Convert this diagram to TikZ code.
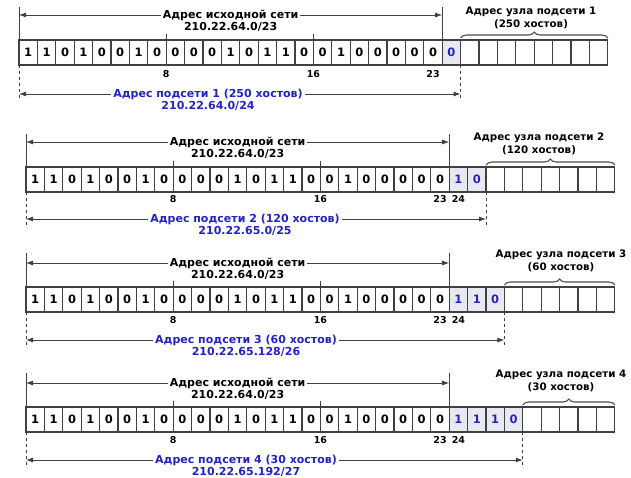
\documentclass[tikz,border=0pt]{standalone}
\usepackage{fontspec}
\setmainfont{DejaVu Sans}
\usepackage{xcolor}
\usetikzlibrary{arrows.meta, positioning, decorations.pathreplacing}
\definecolor{subblue}{RGB}{35,35,190}
\definecolor{subfill}{RGB}{232,232,240}
\newcommand{\cw}{18.4}
\tikzset{
  bitcell/.style={rectangle, draw=black!75, fill=white, line width=1.3pt,
                  minimum width=18.4pt, minimum height=25pt, inner sep=0pt,
                  outer sep=0pt, font=\bfseries\fontsize{11.5}{12}\selectfont},
  subcell/.style={bitcell, fill=subfill, text=subblue},
  dimarr/.style={{Latex[length=7pt,width=5pt]}-{Latex[length=7pt,width=5pt]},
                 draw=black!75, line width=0.8pt},
  guide/.style={draw=black!75, line width=0.9pt},
  hostbrace/.style={decorate, decoration={brace, amplitude=6pt, raise=2pt},
                    draw=black!70, line width=1.1pt},
  nettxt/.style={font=\bfseries\fontsize{11}{12}\selectfont, fill=white,
                 inner sep=2pt, text height=8pt, text depth=2pt},
  subtxt/.style={nettxt, text=subblue},
  hosttxt/.style={font=\bfseries\fontsize{10.3}{12}\selectfont, inner sep=1pt},
  bitnum/.style={font=\bfseries\fontsize{9.5}{11}\selectfont, inner sep=1pt},
}

\begin{document}
\begin{tikzpicture}[x=1pt, y=-1pt]
  \useasboundingbox (0,0) rectangle (631,477);

  % subnet 1: /24
  \begin{scope}[shift={(19,40)}]
    \foreach \b [count=\i] in {1,1,0,1,0,0,1,0,0,0,0,1,0,1,1,0,0,1,0,0,0,0,0}
      \node[bitcell] (r1b\i) at ({(\i-0.5)*\cw},12.5) {\b};
    \node[subcell] (r1b24) at ({23.5*\cw},12.5) {0};
    \foreach \i in {25,...,32}
      \node[bitcell] (r1b\i) at ({(\i-0.5)*\cw},12.5) {};
    \draw[guide] (r1b8.north east) -- ++(0,-6);
    \draw[guide] (r1b16.north east) -- ++(0,-6);
    \draw[guide] (r1b1.north west) -- ++(0,-33);
    \draw[guide] (r1b23.north east) -- ++(0,-33);
    \draw[guide, dashed] (r1b1.south west) -- ++(0,35);
    \draw[guide, dashed] (r1b24.south east) -- ++(0,35);
    \coordinate (r1nl) at (0,-25);
    \coordinate (r1nr) at ({23*\cw},-25);
    \draw[dimarr] (r1nl) -- (r1nr) node[nettxt, midway] (r1net) {Адрес исходной сети};
    \node[nettxt, fill=none] (r1neta) at ([yshift=-12pt]r1net.center) {210.22.64.0/23};
    \coordinate (r1sl) at (0,54);
    \coordinate (r1sr) at ({24*\cw},54);
    \draw[dimarr] (r1sl) -- (r1sr);
    \node[subtxt] (r1sub) at (189,54) {Адрес подсети 1 (250 хостов)};
    \node[subtxt, fill=none] (r1suba) at (189,66) {210.22.64.0/24};
    \draw[hostbrace] (r1b25.north west) -- (r1b32.north east);
    \node[hosttxt] (r1host) at (512,-28) {Адрес узла подсети 1};
    \node[hosttxt] (r1hosta) at (512,-16) {(250 хостов)};
    \node[bitnum] (r1n8) at ({8*\cw},34) {8};
    \node[bitnum] (r1n16) at ({16*\cw},34) {16};
    \node[bitnum] (r1n23) at (r1b23 |- r1n8) {23};
  \end{scope}

  % subnet 2: /25
  \begin{scope}[shift={(26,167)}]
    \foreach \b [count=\i] in {1,1,0,1,0,0,1,0,0,0,0,1,0,1,1,0,0,1,0,0,0,0,0}
      \node[bitcell] (r2b\i) at ({(\i-0.5)*\cw},12.5) {\b};
    \node[subcell] (r2b24) at ({23.5*\cw},12.5) {1};
    \node[subcell] (r2b25) at ({24.5*\cw},12.5) {0};
    \foreach \i in {26,...,32}
      \node[bitcell] (r2b\i) at ({(\i-0.5)*\cw},12.5) {};
    \draw[guide] (r2b8.north east) -- ++(0,-6);
    \draw[guide] (r2b16.north east) -- ++(0,-6);
    \draw[guide] (r2b1.north west) -- ++(0,-33);
    \draw[guide] (r2b23.north east) -- ++(0,-33);
    \draw[guide, dashed] (r2b1.south west) -- ++(0,35);
    \draw[guide, dashed] (r2b25.south east) -- ++(0,35);
    \coordinate (r2nl) at (0,-25);
    \coordinate (r2nr) at ({23*\cw},-25);
    \draw[dimarr] (r2nl) -- (r2nr) node[nettxt, midway] (r2net) {Адрес исходной сети};
    \node[nettxt, fill=none] (r2neta) at ([yshift=-12pt]r2net.center) {210.22.64.0/23};
    \coordinate (r2sl) at (0,52);
    \coordinate (r2sr) at ({25*\cw},52);
    \draw[dimarr] (r2sl) -- (r2sr);
    \node[subtxt] (r2sub) at (219,52) {Адрес подсети 2 (120 хостов)};
    \node[subtxt, fill=none] (r2suba) at (219,64) {210.22.65.0/25};
    \draw[hostbrace] (r2b26.north west) -- (r2b32.north east);
    \node[hosttxt] (r2host) at (513,-29) {Адрес узла подсети 2};
    \node[hosttxt] (r2hosta) at (513,-17) {(120 хостов)};
    \node[bitnum] (r2n8) at ({8*\cw},32) {8};
    \node[bitnum] (r2n16) at ({16*\cw},32) {16};
    \node[bitnum] (r2n23) at (r2b23 |- r2n8) {23};
    \node[bitnum] (r2n24) at (r2b24 |- r2n8) {24};
  \end{scope}

  % subnet 3: /26
  \begin{scope}[shift={(26,287)}]
    \foreach \b [count=\i] in {1,1,0,1,0,0,1,0,0,0,0,1,0,1,1,0,0,1,0,0,0,0,0}
      \node[bitcell] (r3b\i) at ({(\i-0.5)*\cw},12.5) {\b};
    \foreach \b [count=\j from 24] in {1,1,0}
      \node[subcell] (r3b\j) at ({(\j-0.5)*\cw},12.5) {\b};
    \foreach \i in {27,...,32}
      \node[bitcell] (r3b\i) at ({(\i-0.5)*\cw},12.5) {};
    \draw[guide] (r3b8.north east) -- ++(0,-6);
    \draw[guide] (r3b16.north east) -- ++(0,-6);
    \draw[guide] (r3b1.north west) -- ++(0,-34);
    \draw[guide] (r3b23.north east) -- ++(0,-34);
    \draw[guide, dashed] (r3b1.south west) -- ++(0,35);
    \draw[guide, dashed] (r3b26.south east) -- ++(0,35);
    \coordinate (r3nl) at (0,-24);
    \coordinate (r3nr) at ({23*\cw},-24);
    \draw[dimarr] (r3nl) -- (r3nr) node[nettxt, midway] (r3net) {Адрес исходной сети};
    \node[nettxt, fill=none] (r3neta) at ([yshift=-12pt]r3net.center) {210.22.64.0/23};
    \coordinate (r3sl) at (0,53);
    \coordinate (r3sr) at ({26*\cw},53);
    \draw[dimarr] (r3sl) -- (r3sr);
    \node[subtxt] (r3sub) at (220,53) {Адрес подсети 3 (60 хостов)};
    \node[subtxt, fill=none] (r3suba) at (220,65) {210.22.65.128/26};
    \draw[hostbrace] (r3b27.north west) -- (r3b32.north east);
    \node[hosttxt] (r3host) at (535,-32) {Адрес узла подсети 3};
    \node[hosttxt] (r3hosta) at (535,-20) {(60 хостов)};
    \node[bitnum] (r3n8) at ({8*\cw},33) {8};
    \node[bitnum] (r3n16) at ({16*\cw},33) {16};
    \node[bitnum] (r3n23) at (r3b23 |- r3n8) {23};
    \node[bitnum] (r3n24) at (r3b24 |- r3n8) {24};
  \end{scope}

  % subnet 4: /27
  \begin{scope}[shift={(26,407)}]
    \foreach \b [count=\i] in {1,1,0,1,0,0,1,0,0,0,0,1,0,1,1,0,0,1,0,0,0,0,0}
      \node[bitcell] (r4b\i) at ({(\i-0.5)*\cw},12.5) {\b};
    \foreach \b [count=\j from 24] in {1,1,1,0}
      \node[subcell] (r4b\j) at ({(\j-0.5)*\cw},12.5) {\b};
    \foreach \i in {28,...,32}
      \node[bitcell] (r4b\i) at ({(\i-0.5)*\cw},12.5) {};
    \draw[guide] (r4b8.north east) -- ++(0,-6);
    \draw[guide] (r4b16.north east) -- ++(0,-6);
    \draw[guide] (r4b1.north west) -- ++(0,-34);
    \draw[guide] (r4b23.north east) -- ++(0,-34);
    \draw[guide, dashed] (r4b1.south west) -- ++(0,35);
    \draw[guide, dashed] (r4b27.south east) -- ++(0,35);
    \coordinate (r4nl) at (0,-24);
    \coordinate (r4nr) at ({23*\cw},-24);
    \draw[dimarr] (r4nl) -- (r4nr) node[nettxt, midway] (r4net) {Адрес исходной сети};
    \node[nettxt, fill=none] (r4neta) at ([yshift=-12pt]r4net.center) {210.22.64.0/23};
    \coordinate (r4sl) at (0,53);
    \coordinate (r4sr) at ({27*\cw},53);
    \draw[dimarr] (r4sl) -- (r4sr);
    \node[subtxt] (r4sub) at (220,53) {Адрес подсети 4 (30 хостов)};
    \node[subtxt, fill=none] (r4suba) at (220,65) {210.22.65.192/27};
    \draw[hostbrace] (r4b28.north west) -- (r4b32.north east);
    \node[hosttxt] (r4host) at (535,-32) {Адрес узла подсети 4};
    \node[hosttxt] (r4hosta) at (535,-20) {(30 хостов)};
    \node[bitnum] (r4n8) at ({8*\cw},33) {8};
    \node[bitnum] (r4n16) at ({16*\cw},33) {16};
    \node[bitnum] (r4n23) at (r4b23 |- r4n8) {23};
    \node[bitnum] (r4n24) at (r4b24 |- r4n8) {24};
  \end{scope}
\end{tikzpicture}
\end{document}
